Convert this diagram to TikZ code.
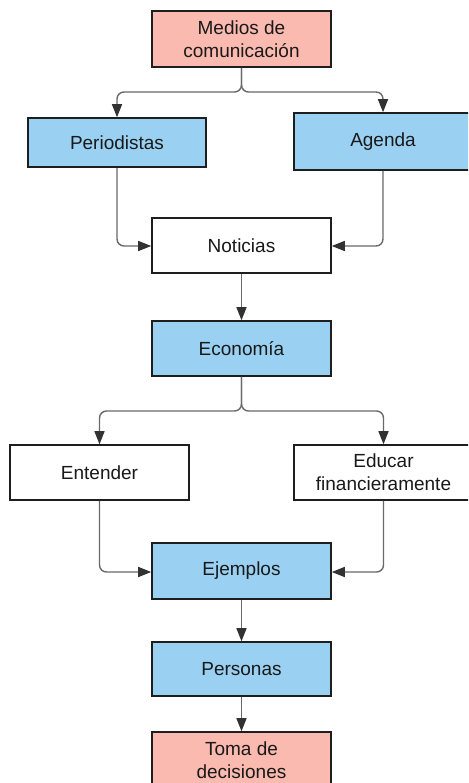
\documentclass[tikz,border=0pt]{standalone}
\usepackage{fontspec}
\setmainfont{Liberation Sans}
\usetikzlibrary{arrows.meta,positioning}
\definecolor{pinkfill}{RGB}{250,186,176}
\definecolor{bluefill}{RGB}{154,209,243}
\definecolor{boxline}{RGB}{30,30,30}
\definecolor{connline}{RGB}{105,105,105}
\definecolor{tipcol}{RGB}{50,50,50}
\definecolor{txt}{RGB}{25,25,25}
\tikzset{
  box/.style={draw=boxline, line width=1.6pt, rectangle, inner sep=0pt,
    minimum width=179pt, align=center, text=txt,
    font=\fontsize{19pt}{23pt}\selectfont},
  pinkbox/.style={box, fill=pinkfill},
  bluebox/.style={box, fill=bluefill},
  whitebox/.style={box, fill=white},
  conn/.style={draw=connline, line width=1.4pt, rounded corners=7pt,
    -{Triangle[length=13pt,width=10pt,fill=tipcol,color=tipcol]}},
}
\begin{document}
\begin{tikzpicture}[x=1pt,y=1pt]
\useasboundingbox (0,0) rectangle (468,-783);
\clip (0,0) rectangle (468,-783);
\fill[white] (0,0) rectangle (468,-783);

\node[pinkbox, minimum height=56pt] (medios) at (241.5,-39) {Medios de\\comunicación};
\node[bluebox, minimum width=178pt, minimum height=49pt] (perio) at (117,-142.5) {Periodistas};
\node[bluebox, minimum width=178pt, minimum height=57pt] (agenda) at (383,-141.5) {Agenda};
\node[whitebox, minimum height=55pt] (noticias) at (241.5,-245.5) {Noticias};
\node[bluebox, minimum height=55pt] (economia) at (241.5,-348.5) {Economía};
\node[whitebox, minimum height=55pt] (entender) at (99.5,-472.5) {Entender};
\node[whitebox, minimum height=55pt] (educar) at (383.5,-472.5) {Educar\\financieramente};
\node[bluebox, minimum height=56pt] (ejemplos) at (241.5,-571) {Ejemplos};
\node[bluebox, minimum height=54pt] (personas) at (241.5,-669) {Personas};
\node[pinkbox, minimum height=56pt] (toma) at (241.5,-760) {Toma de\\decisiones};

\coordinate (s1) at (241.5,-92);
\coordinate (s2) at (241.5,-411);
\coordinate (j1) at (0,-246);
\coordinate (j2) at (0,-572);

\draw[conn] (medios.south) -- (s1) -| (perio.north);
\draw[conn] (medios.south) -- (s1) -| (agenda.north);
\draw[conn] (perio.south) |- (noticias.west |- j1);
\draw[conn] (agenda.south) |- (noticias.east |- j1);
\draw[conn] (noticias) -- (economia);
\draw[conn] (economia.south) -- (s2) -| (entender.north);
\draw[conn] (economia.south) -- (s2) -| (educar.north);
\draw[conn] (entender.south) |- (ejemplos.west |- j2);
\draw[conn] (educar.south) |- (ejemplos.east |- j2);
\draw[conn] (ejemplos) -- (personas);
\draw[conn] (personas) -- (toma);
\end{tikzpicture}
\end{document}
